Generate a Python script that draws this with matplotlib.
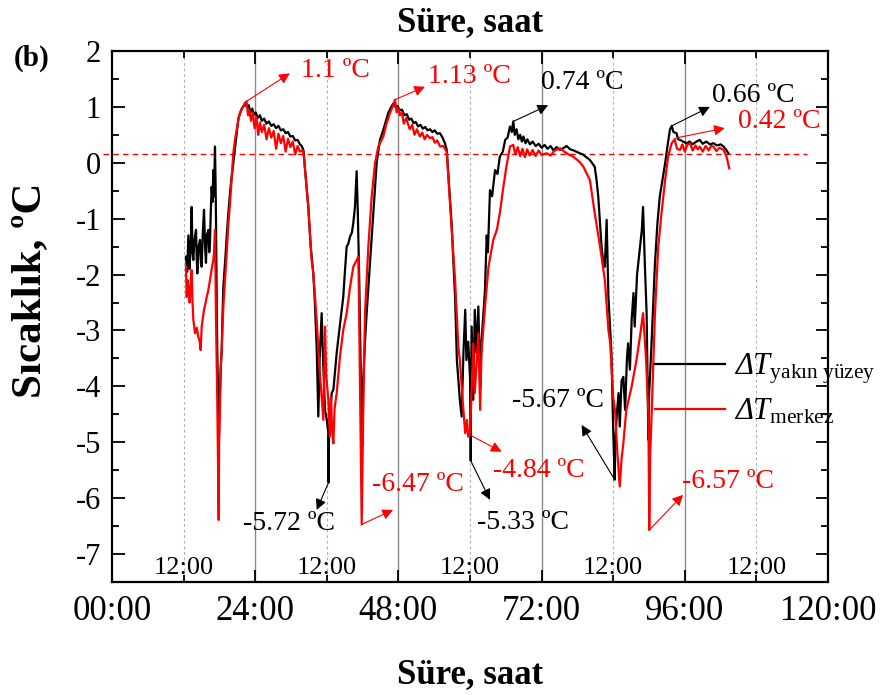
import matplotlib
matplotlib.use("Agg")
import matplotlib.pyplot as plt
from matplotlib.ticker import MultipleLocator, FuncFormatter

plt.rcParams['font.family'] = ['Liberation Serif', 'DejaVu Serif']
plt.rcParams['mathtext.fontset'] = 'custom'
plt.rcParams['mathtext.rm'] = 'Liberation Serif:italic'
plt.rcParams['mathtext.it'] = 'Liberation Serif:italic'
plt.rcParams['mathtext.sf'] = 'Liberation Serif'
plt.rcParams['axes.unicode_minus'] = False

# ---------------- data (hours, degC) ----------------
t_surface = [
    12.4, 12.6, 12.8, 13.0, 13.2, 13.35, 13.5, 13.63, 13.8, 14.08, 14.2, 14.3, 14.5, 14.75, 14.9, 15.03,
    15.2, 15.42, 15.6, 15.75, 15.9, 16.14, 16.3, 16.42, 16.55, 16.7, 16.85, 16.98, 17.1, 17.26, 17.35,
    17.43, 17.55, 17.65, 17.8, 17.93, 18.0, 18.1, 18.25, 18.38, 18.5, 18.66, 19.0, 19.22, 19.5, 19.78,
    20.0, 20.33, 20.6, 20.9, 21.2, 21.5, 21.8, 22.1, 22.3,
    22.6, 22.9, 23.2, 23.5, 23.8, 24.1, 24.4, 24.8, 25.1, 25.5, 25.9, 26.3, 26.7, 27.1, 27.5, 27.9,
    28.3, 28.7, 29.1, 29.5, 29.9, 30.3, 30.7, 31.1, 31.5, 31.8, 32.1,
    32.5, 32.9, 33.3, 33.74, 34.0, 34.3, 34.58, 34.8, 35.14, 35.4, 35.7, 36.0, 36.26, 36.3, 36.35,
    36.6, 36.82, 37.1, 37.4, 37.66, 38.2, 38.76, 39.0, 39.33, 39.6, 39.9, 40.2, 40.44, 40.72, 41.0,
    41.2, 41.44, 41.7, 41.85, 42.0, 42.1, 42.4, 42.68, 43.24, 43.8, 44.36, 44.91, 45.47, 46.3, 46.7, 47.14,
    47.5, 47.8, 48.26, 48.6, 49.0, 49.4, 49.8, 50.2, 50.5, 50.9, 51.3, 51.7, 52.1, 52.5, 52.9, 53.3,
    53.7, 54.1, 54.5, 54.97, 55.4, 55.8, 56.1,
    56.4, 56.93, 57.2, 57.5, 57.8, 58.3, 58.6, 58.9, 59.2, 59.4, 59.7, 60.0, 60.1, 60.12, 60.15, 60.28,
    60.55, 60.8, 61.1, 61.4, 61.7, 61.9, 62.3, 62.5, 62.8, 63.0, 63.35, 63.7, 64.2, 64.6, 65.0, 65.5,
    65.9, 66.3, 66.7, 67.0, 67.25,
    67.5, 67.8, 68.1, 68.4, 68.7, 68.96, 69.3, 69.6, 70.05, 70.5, 71.0, 71.5, 72.0, 72.5, 73.0, 73.5,
    74.0, 74.5, 75.1, 75.6, 76.2, 76.8, 77.4, 78.0, 78.4, 78.9, 79.5, 80.1, 80.9, 81.2, 81.5, 82.05,
    82.3, 82.6, 82.9, 83.2, 83.5, 83.7, 84.0, 84.25, 84.35, 84.6, 84.9, 85.1, 85.4, 85.7, 86.0, 86.3,
    86.5, 86.8, 87.1, 87.4, 87.6, 88.0, 88.5, 88.8, 89.0, 89.3, 89.6, 89.8, 89.9, 90.0, 90.4, 91.0,
    91.4, 91.8, 92.7, 93.1, 93.5, 93.8, 94.1, 94.6, 94.9, 95.2, 95.7, 96.3, 96.8, 97.3, 97.8, 98.5,
    99.0, 99.6, 100.2, 100.8, 101.4, 102.0, 102.5, 103.0, 103.3,
]
dT_surface = [
    -1.68, -1.95, -1.3, -1.9, -1.45, -0.79, -1.6, -1.74, -1.4, -1.2, -1.7, -1.98, -1.5, -1.38, -1.8, -1.86,
    -1.3, -0.84, -1.5, -1.79, -1.3, -1.2, -1.6, -1.43, -0.9, -0.43, -0.7, -0.13, -0.6, 0.29, -0.3,
    -1.02, -2.5, -3.4, -4.3, -4.9, -4.0, -4.12, -3.6, -3.4, -2.8, -2.22, -1.7, -1.32, -0.9, -0.54,
    -0.3, -0.01, 0.25, 0.53, 0.8, 0.9, 0.98, 1.02, 1.07,
    1.0, 1.03, 0.9, 0.97, 0.86, 0.9, 0.8, 0.85, 0.75, 0.79, 0.7, 0.74, 0.66, 0.69, 0.62, 0.66,
    0.58, 0.6, 0.53, 0.55, 0.47, 0.48, 0.4, 0.41, 0.33, 0.3, 0.22,
    -0.3, -0.79, -1.5, -1.98, -2.5, -3.3, -4.54, -3.5, -2.69, -3.6, -4.42, -4.6, -4.84, -5.72, -4.9,
    -4.5, -4.12, -4.06, -3.7, -3.4, -2.9, -2.4, -2.0, -1.5, -1.45, -1.32, -1.25, -1.08, -0.79, -0.15,
    -0.9, -2.1, -3.8, -4.48, -5.05, -3.89, -3.2, -2.69, -1.8, -0.9, 0.0, 0.41, 0.59, 0.89, 0.98, 1.06,
    1.0, 1.02, 0.94, 0.95, 0.85, 0.87, 0.77, 0.79, 0.71, 0.73, 0.65, 0.68, 0.61, 0.64, 0.58, 0.6,
    0.55, 0.58, 0.52, 0.53, 0.45, 0.35, 0.23,
    -0.25, -1.1, -1.74, -2.4, -3.53, -4.24, -4.54, -3.4, -2.63, -3.53, -3.2, -3.83, -4.6, -5.33, -4.5, -2.93,
    -4.24, -2.63, -3.4, -2.57, -4.0, -3.23, -2.6, -2.3, -1.3, -1.6, -0.49, -0.6, -0.13, -0.2, 0.11, 0.2,
    0.41, 0.45, 0.65, 0.55, 0.74,
    0.5, 0.6, 0.42, 0.5, 0.38, 0.47, 0.35, 0.42, 0.33, 0.38, 0.3, 0.34, 0.27, 0.32, 0.25, 0.3,
    0.22, 0.28, 0.23, 0.26, 0.3, 0.24, 0.22, 0.19, 0.17, 0.15, 0.1, 0.05, -0.07, -0.3, -0.61, -1.5,
    -1.74, -1.86, -1.02, -2.4, -3.0, -3.4, -4.78, -5.67, -5.0, -4.5, -4.12, -4.72, -3.9, -3.83, -4.42, -3.5,
    -3.23, -3.7, -2.8, -2.33, -2.93, -2.0, -1.5, -1.2, -0.79, -1.8, -2.69, -4.3, -4.96, -4.2, -3.29, -1.8,
    -1.1, -0.61, -0.01, 0.3, 0.59, 0.66, 0.55, 0.53, 0.42, 0.41, 0.38, 0.35, 0.38, 0.33, 0.37, 0.41,
    0.34, 0.38, 0.33, 0.35, 0.31, 0.33, 0.29, 0.22, 0.17,
]

t_center = [
    12.4, 12.52, 12.65, 12.79, 13.0, 13.07, 13.2, 13.35, 13.5, 13.63, 13.91, 14.2, 14.46, 14.7, 14.86,
    15.03, 15.2, 15.42, 15.6, 15.87, 16.1, 16.42, 16.7, 16.98, 17.1, 17.26, 17.43, 17.65, 17.88, 17.95,
    18.05, 18.21, 18.4, 18.66, 19.0, 19.22, 19.5, 19.78, 20.1, 20.33, 20.6, 21.17, 21.45, 21.9, 22.29, 22.55,
    22.8, 23.0, 23.3, 23.6, 23.9, 24.2, 24.5, 24.8, 25.1, 25.5, 25.9, 26.3, 26.7, 27.1, 27.5, 27.9,
    28.3, 28.7, 29.1, 29.5, 29.9, 30.3, 30.7, 31.1, 31.5, 31.9, 32.07,
    32.5, 32.9, 33.46, 33.74, 34.3, 34.8, 35.42, 35.7, 35.9, 36.26, 36.5, 36.7, 36.9, 37.1, 37.3, 37.66,
    38.2, 38.76, 39.33, 39.9, 40.44, 41.0, 41.3, 41.56, 41.85, 42.1, 42.4, 42.96, 43.52, 44.08, 44.63,
    45.47, 46.0, 46.59, 47.14, 47.43,
    47.7, 48.0, 48.26, 48.6, 48.9, 49.3, 49.9, 50.3, 50.7, 51.1, 51.6, 52.0, 52.4, 52.8, 53.3, 53.7,
    54.1, 54.5, 55.0, 55.5, 56.1,
    56.4, 56.93, 57.5, 58.04, 58.3, 58.8, 59.2, 59.5, 59.7, 60.0, 60.3, 60.55, 60.8, 61.1, 61.4, 61.7,
    61.9, 62.0, 62.5, 63.1, 63.9, 64.5, 65.0, 65.5, 66.1, 66.7, 67.25,
    67.6, 68.0, 68.4, 68.8, 69.2, 69.6, 70.0, 70.5, 71.0, 71.5, 72.0, 72.8, 73.5, 74.2, 75.1, 75.8,
    76.5, 77.3, 78.0, 78.5, 79.0, 79.6, 80.1, 80.5, 80.9, 81.8, 82.6, 83.2, 83.5, 84.0, 84.3, 84.7,
    85.1, 85.4, 85.7, 86.2, 87.1, 87.9, 88.5, 89.0, 89.5, 89.9, 90.04, 90.2, 90.45, 91.0, 91.55, 92.1,
    92.7, 93.2, 93.8, 94.3, 94.7, 95.2, 95.6, 96.0, 96.4, 96.9, 97.3, 97.8, 98.2, 98.5, 99.0, 99.5,
    100.0, 100.4, 100.8, 101.3, 101.8, 102.5, 103.0, 103.45,
]
dT_center = [
    -1.86, -2.4, -2.1, -2.22, -2.5, -2.45, -2.1, -1.92, -2.5, -2.81, -3.05, -2.95, -3.11, -3.2, -3.35,
    -2.93, -2.8, -2.63, -2.55, -2.4, -2.3, -2.1, -1.9, -1.74, -1.6, -1.2, -2.81, -4.3, -6.39, -5.0,
    -4.6, -3.71, -3.3, -2.57, -2.0, -1.62, -1.1, -0.72, -0.2, 0.17, 0.4, 0.77, 0.89, 1.0, 1.06, 1.1,
    0.85, 0.95, 0.75, 0.9, 0.62, 0.82, 0.5, 0.72, 0.55, 0.68, 0.42, 0.62, 0.45, 0.57, 0.25, 0.52,
    0.35, 0.48, 0.2, 0.43, 0.28, 0.38, 0.15, 0.3, 0.2, 0.22, 0.2,
    -0.3, -0.79, -1.74, -1.98, -2.81, -3.7, -4.6, -2.93, -3.8, -4.24, -4.9, -4.2, -4.8, -5.02, -4.4, -4.12,
    -3.47, -2.99, -2.69, -2.22, -1.86, -1.74, -1.68, -3.89, -6.47, -4.48, -2.69, -1.5, -0.61, -0.01, 0.29,
    0.47, 0.7, 0.89, 1.03, 1.13,
    0.9, 0.98, 0.85, 0.9, 0.7, 0.8, 0.6, 0.68, 0.5, 0.6, 0.47, 0.54, 0.42, 0.5, 0.44, 0.46,
    0.36, 0.4, 0.29, 0.3, 0.2,
    -0.31, -1.2, -2.1, -3.29, -3.53, -4.3, -4.84, -4.6, -4.9, -4.84, -4.0, -3.23, -4.12, -3.6, -3.05, -4.42,
    -3.53, -3.29, -2.6, -1.86, -1.38, -1.2, -0.9, -0.5, -0.07, 0.29, 0.32,
    0.15, 0.28, 0.12, 0.25, 0.1, 0.24, 0.13, 0.23, 0.12, 0.22, 0.14, 0.17, 0.13, 0.22, 0.26, 0.2,
    0.15, 0.11, 0.05, 0.0, -0.07, -0.2, -0.31, -0.6, -0.9, -1.5, -2.1, -2.99, -3.23, -4.2, -4.42, -5.2,
    -5.79, -5.3, -5.02, -4.42, -4.0, -3.53, -3.1, -2.69, -3.5, -4.48, -6.57, -5.2, -4.48, -2.69, -1.5, -0.9,
    -0.31, 0.11, 0.35, 0.42, 0.25, 0.23, 0.33, 0.2, 0.32, 0.35, 0.22, 0.31, 0.24, 0.29, 0.2, 0.3,
    0.22, 0.3, 0.29, 0.21, 0.27, 0.23, 0.11, -0.1,
]

ref_level = 0.15
x_tick_values = [0, 24, 48, 72, 96, 120]
x_tick_labels = ['00:00', '24:00', '48:00', '72:00', '96:00', '120:00']
noon_hours = [12, 36, 60, 84, 108]
noon_label = '12:00'
legend_labels = [r'$ΔT_{\mathsf{yakın\ yüzey}}$', r'$ΔT_{\mathsf{merkez}}$']

# annotation values: (series, point time, value text)
annot_series = ['center', 'center', 'surface', 'surface', 'center',
                'surface', 'center', 'center', 'surface', 'surface', 'center']
annot_t = [22.55, 47.43, 67.25, 93.8, 94.35, 36.3, 41.85, 60.0, 60.12, 84.25, 90.04]
annot_v = [1.1, 1.13, 0.74, 0.66, 0.44, -5.72, -6.47, -4.87, -5.33, -5.67, -6.57]
annot_text = ['1.1 ºC', '1.13 ºC', '0.74 ºC', '0.66 ºC', '0.42 ºC', '-5.72 ºC',
              '-6.47 ºC', '-4.84 ºC', '-5.33 ºC', '-5.67 ºC', '-6.57 ºC']
# layout for annotations: arrow head point and text anchor (left, center)
annot_head = [(29.8, 1.6), (52.45, 1.36), (73.1, 1.03), (100.2, 1.0), (102.7, 0.62),
              (34.3, -6.21), (47.1, -6.21), (65.3, -5.17), (63.35, -6.03), (78.7, -4.69), (95.7, -5.94)]
annot_textpos = [(31.6, 1.66), (53.0, 1.55), (71.9, 1.43), (100.5, 1.21), (104.9, 0.73),
                 (21.9, -6.46), (43.6, -5.76), (63.8, -5.5), (61.1, -6.43), (67.0, -4.26), (95.6, -5.71)]

# ---------------- figure ----------------
fig = plt.figure(figsize=(8.82, 6.95), dpi=100)
ax = fig.add_axes([112/882, 1-582/695, (828-112)/882, (582-51)/695])

ax.set_xlim(0, 120)
ax.set_ylim(-7.5, 2)

for h in x_tick_values[1:-1]:
    ax.axvline(h, color='#8a8a8a', lw=1.0, zorder=0)
for h in noon_hours:
    ax.axvline(h, color='#b0b0b0', lw=0.8, ls=(0, (2.5, 2.5)), zorder=0)
    ax.text(h, -7.45, noon_label, ha='center', va='bottom', fontsize=19, zorder=1)

ax.plot([-1.5, 116.5], [ref_level, ref_level], color='red', lw=1.0,
        ls=(0, (4, 3)), clip_on=False, zorder=1)

l1, = ax.plot(t_surface, dT_surface, color='black', lw=1.6, zorder=3)
l2, = ax.plot(t_center, dT_center, color='red', lw=1.6, zorder=4)

colors = {'surface': 'black', 'center': 'red'}
for s, tt, vv, txt, head, tp in zip(annot_series, annot_t, annot_v, annot_text, annot_head, annot_textpos):
    c = colors[s]
    ax.annotate('', xy=head, xytext=(tt, vv),
                arrowprops=dict(arrowstyle='-|>', color=c, lw=0.8, mutation_scale=16,
                                shrinkA=0, shrinkB=0), zorder=5)
    ax.text(tp[0], tp[1], txt, color=c, fontsize=20, ha='left', va='center', zorder=5)

leg = ax.legend([l1, l2], legend_labels, loc='center left',
                bbox_to_anchor=((655-112)/716, (582-389)/531), frameon=False,
                fontsize=22, handlelength=2.3, handletextpad=0.3, labelspacing=0.35,
                borderpad=0, borderaxespad=0)

ax.set_xticks(x_tick_values)
ax.set_xticklabels(x_tick_labels)
ax.xaxis.set_minor_locator(MultipleLocator(12))
ax.yaxis.set_major_locator(MultipleLocator(1))
ax.yaxis.set_minor_locator(MultipleLocator(0.5))
ax.yaxis.set_major_formatter(FuncFormatter(lambda v, p: '%d' % v))

ax.tick_params(which='both', direction='in', top=True, right=True, width=1.3)
ax.tick_params(which='major', length=9)
ax.tick_params(which='minor', length=5)
ax.tick_params(axis='x', labelsize=25, pad=9)
ax.tick_params(axis='y', labelsize=22, pad=8)
for sp in ax.spines.values():
    sp.set_linewidth(1.6)

ax.set_title('Süre, saat', fontsize=25, fontweight='bold', pad=14)
ax.set_xlabel('Süre, saat', fontsize=25, fontweight='bold', labelpad=22)
fig.text(30/882, 1-290/695, 'Sıcaklık, ºC', rotation=90, fontsize=31, fontweight='bold',
         ha='center', va='center')
fig.text(14/882, 1-58/695, '(b)', fontsize=21, fontweight='bold', ha='left', va='center')

fig.savefig('out.png', dpi=100)
